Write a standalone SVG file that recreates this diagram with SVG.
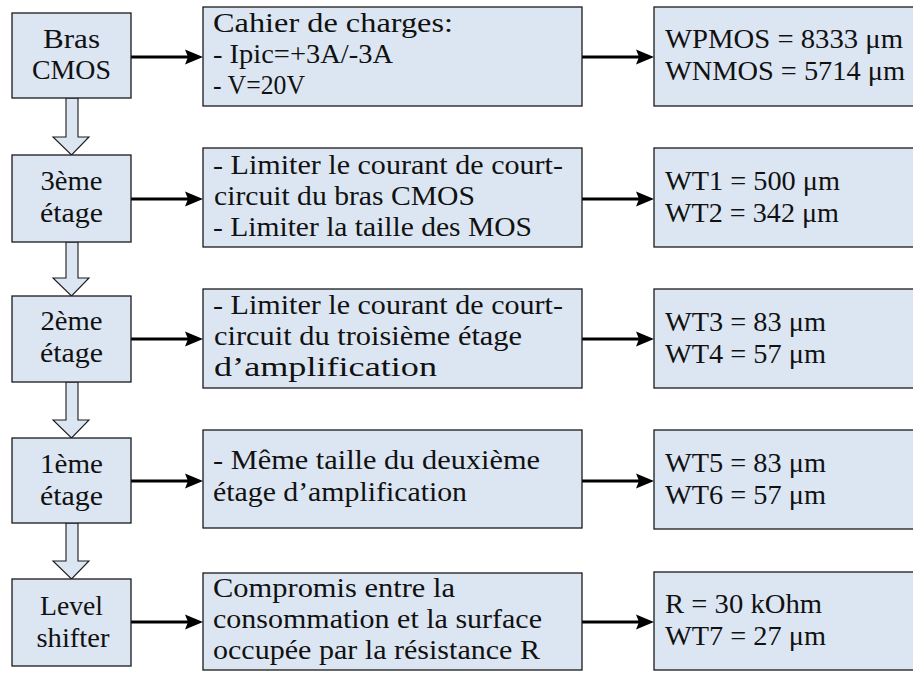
<svg xmlns="http://www.w3.org/2000/svg" width="913" height="673" viewBox="0 0 913 673">
<defs>
<style>
.box{fill:#dce6f2;stroke:#1a1a1a;stroke-width:1.3}
.blk{fill:#dce6f2;stroke:#1a1a1a;stroke-width:1.1}
text{font-family:'Liberation Serif',serif;font-size:27px;fill:#111}
.c{text-anchor:middle}
.ln{stroke:#000;stroke-width:3;fill:none}
.ah{fill:#000}
</style>
</defs>
<rect width="913" height="673" fill="#fff"/>
<g id="connectors">
<path class="blk" d="M66,98 V137 H53 L71.5,155 L89,137 H78 V98 Z"/>
<path class="blk" d="M66,242 V278 H53 L71.5,296 L89,278 H78 V242 Z"/>
<path class="blk" d="M66,382 V420 H53 L71.5,438 L89,420 H78 V382 Z"/>
<path class="blk" d="M66,523 V561 H53 L71.5,579 L89,561 H78 V523 Z"/>
<line class="ln" x1="131" y1="57" x2="190" y2="57"/><path class="ah" d="M203,57 L185,49.5 L188,57 L185,64.5 Z"/>
<line class="ln" x1="582" y1="57" x2="641" y2="57"/><path class="ah" d="M654,57 L636,49.5 L639,57 L636,64.5 Z"/>
<line class="ln" x1="131" y1="199" x2="190" y2="199"/><path class="ah" d="M203,199 L185,191.5 L188,199 L185,206.5 Z"/>
<line class="ln" x1="582" y1="199" x2="641" y2="199"/><path class="ah" d="M654,199 L636,191.5 L639,199 L636,206.5 Z"/>
<line class="ln" x1="131" y1="339" x2="190" y2="339"/><path class="ah" d="M203,339 L185,331.5 L188,339 L185,346.5 Z"/>
<line class="ln" x1="582" y1="339" x2="641" y2="339"/><path class="ah" d="M654,339 L636,331.5 L639,339 L636,346.5 Z"/>
<line class="ln" x1="131" y1="481" x2="190" y2="481"/><path class="ah" d="M203,481 L185,473.5 L188,481 L185,488.5 Z"/>
<line class="ln" x1="582" y1="481" x2="641" y2="481"/><path class="ah" d="M654,481 L636,473.5 L639,481 L636,488.5 Z"/>
<line class="ln" x1="131" y1="622" x2="190" y2="622"/><path class="ah" d="M203,622 L185,614.5 L188,622 L185,629.5 Z"/>
<line class="ln" x1="582" y1="622" x2="641" y2="622"/><path class="ah" d="M654,622 L636,614.5 L639,622 L636,629.5 Z"/>
</g>
<g id="bras">
<rect class="box" x="12" y="13" width="119" height="85"/>
<text class="c" x="71.5" y="48" textLength="57" lengthAdjust="spacingAndGlyphs">Bras</text>
<text class="c" x="71.5" y="79" textLength="79" lengthAdjust="spacingAndGlyphs">CMOS</text>
</g>
<g id="cahier">
<rect class="box" x="203" y="7" width="379" height="99"/>
<text x="213" y="32" textLength="240" lengthAdjust="spacingAndGlyphs">Cahier de charges:</text>
<text x="213" y="63" textLength="180" lengthAdjust="spacingAndGlyphs">- Ipic=+3A/-3A</text>
<text x="213" y="94" textLength="92" lengthAdjust="spacingAndGlyphs">- V=20V</text>
</g>
<g id="res1">
<rect class="box" x="654" y="7" width="262" height="99"/>
<text x="665" y="48" textLength="238" lengthAdjust="spacingAndGlyphs">WPMOS = 8333 μm</text>
<text x="665" y="80" textLength="240" lengthAdjust="spacingAndGlyphs">WNMOS = 5714 μm</text>
</g>
<g id="etage3">
<rect class="box" x="12" y="155" width="119" height="87"/>
<text class="c" x="71.5" y="190" textLength="62" lengthAdjust="spacingAndGlyphs">3ème</text>
<text class="c" x="71.5" y="222" textLength="63" lengthAdjust="spacingAndGlyphs">étage</text>
</g>
<g id="desc3">
<rect class="box" x="203" y="148" width="379" height="99"/>
<text x="213" y="174" textLength="350" lengthAdjust="spacingAndGlyphs">- Limiter le courant de court-</text>
<text x="214" y="205" textLength="261" lengthAdjust="spacingAndGlyphs">circuit du bras CMOS</text>
<text x="213" y="236" textLength="319" lengthAdjust="spacingAndGlyphs">- Limiter la taille des MOS</text>
</g>
<g id="res3">
<rect class="box" x="654" y="148" width="262" height="99"/>
<text x="665" y="190" textLength="175" lengthAdjust="spacingAndGlyphs">WT1 = 500 μm</text>
<text x="665" y="222" textLength="174" lengthAdjust="spacingAndGlyphs">WT2 = 342 μm</text>
</g>
<g id="etage2">
<rect class="box" x="12" y="296" width="119" height="86"/>
<text class="c" x="71.5" y="330" textLength="62" lengthAdjust="spacingAndGlyphs">2ème</text>
<text class="c" x="71.5" y="362" textLength="63" lengthAdjust="spacingAndGlyphs">étage</text>
</g>
<g id="desc2">
<rect class="box" x="203" y="289" width="379" height="99"/>
<text x="213" y="314" textLength="350" lengthAdjust="spacingAndGlyphs">- Limiter le courant de court-</text>
<text x="214" y="345" textLength="308" lengthAdjust="spacingAndGlyphs">circuit du troisième étage</text>
<text x="214" y="376" textLength="223" lengthAdjust="spacingAndGlyphs">d’amplification</text>
</g>
<g id="res2">
<rect class="box" x="654" y="289" width="262" height="99"/>
<text x="665" y="331" textLength="161" lengthAdjust="spacingAndGlyphs">WT3 = 83 μm</text>
<text x="665" y="363" textLength="161" lengthAdjust="spacingAndGlyphs">WT4 = 57 μm</text>
</g>
<g id="etage1">
<rect class="box" x="12" y="438" width="119" height="85"/>
<text class="c" x="71.5" y="473" textLength="63" lengthAdjust="spacingAndGlyphs">1ème</text>
<text class="c" x="71.5" y="505" textLength="63" lengthAdjust="spacingAndGlyphs">étage</text>
</g>
<g id="desc1">
<rect class="box" x="203" y="430" width="379" height="98"/>
<text x="213" y="469" textLength="327" lengthAdjust="spacingAndGlyphs">- Même taille du deuxième</text>
<text x="213" y="501" textLength="254" lengthAdjust="spacingAndGlyphs">étage d’amplification</text>
</g>
<g id="res1b">
<rect class="box" x="654" y="430" width="262" height="99"/>
<text x="665" y="472" textLength="161" lengthAdjust="spacingAndGlyphs">WT5 = 83 μm</text>
<text x="665" y="504" textLength="161" lengthAdjust="spacingAndGlyphs">WT6 = 57 μm</text>
</g>
<g id="level">
<rect class="box" x="12" y="579" width="119" height="87"/>
<text class="c" x="71.5" y="615" textLength="63" lengthAdjust="spacingAndGlyphs">Level</text>
<text class="c" x="73" y="647" textLength="73" lengthAdjust="spacingAndGlyphs">shifter</text>
</g>
<g id="descls">
<rect class="box" x="203" y="573" width="379" height="97"/>
<text x="213" y="597" textLength="242" lengthAdjust="spacingAndGlyphs">Compromis entre la</text>
<text x="213" y="628" textLength="329" lengthAdjust="spacingAndGlyphs">consommation et la surface</text>
<text x="213" y="659" textLength="327" lengthAdjust="spacingAndGlyphs">occupée par la résistance R</text>
</g>
<g id="resls">
<rect class="box" x="654" y="572" width="262" height="98"/>
<text x="665" y="613" textLength="157" lengthAdjust="spacingAndGlyphs">R = 30 kOhm</text>
<text x="665" y="645" textLength="161" lengthAdjust="spacingAndGlyphs">WT7 = 27 μm</text>
</g>
</svg>
